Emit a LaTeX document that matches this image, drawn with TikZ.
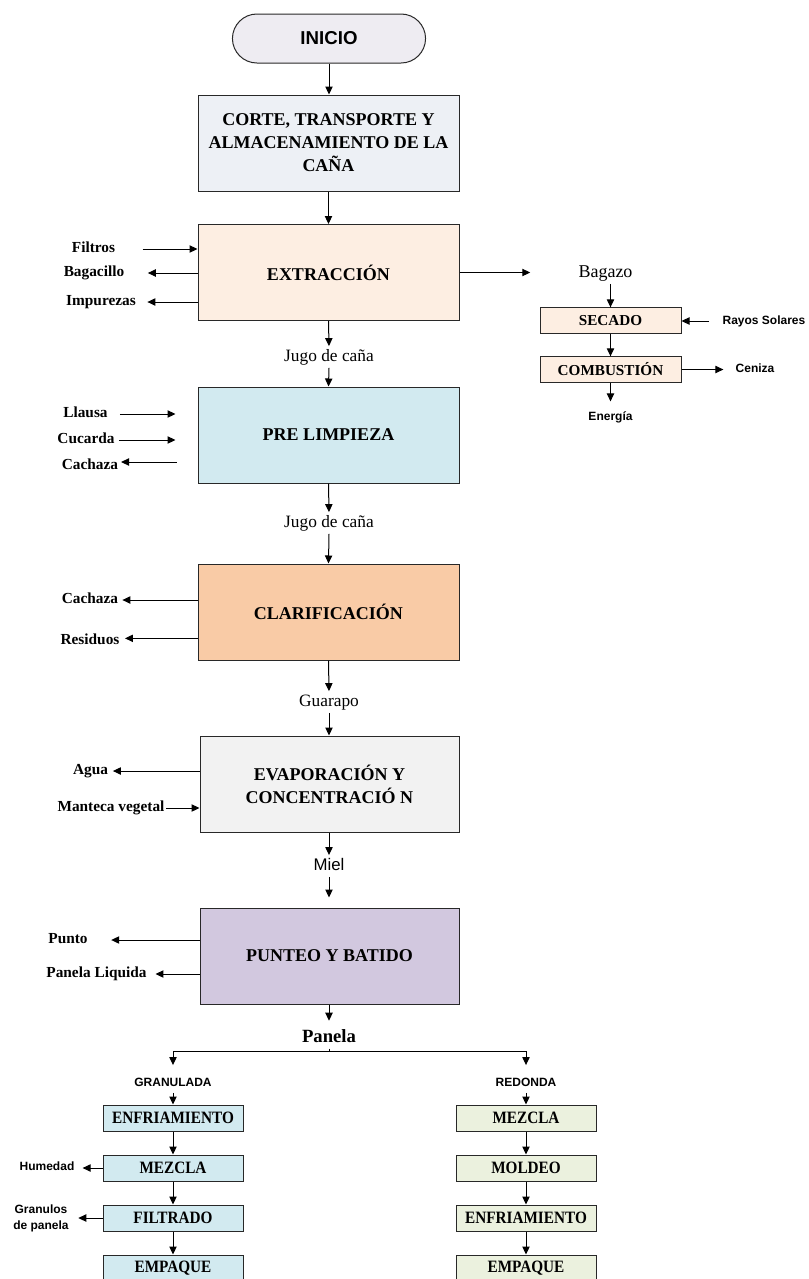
\documentclass[tikz,border=0pt]{standalone}
\usepackage{fontspec}
\setmainfont{Liberation Serif}
\setsansfont{Liberation Sans}
\newfontfamily\condserif[FakeStretch=0.88]{Liberation Serif}
\usetikzlibrary{shapes.misc,arrows.meta}
\definecolor{cInicio}{RGB}{238,236,242}
\definecolor{cCorte}{RGB}{237,240,245}
\definecolor{cExt}{RGB}{253,238,226}
\definecolor{cPre}{RGB}{210,234,240}
\definecolor{cClar}{RGB}{249,203,166}
\definecolor{cEvap}{RGB}{242,242,242}
\definecolor{cPunt}{RGB}{210,200,223}
\definecolor{cGreen}{RGB}{235,241,222}
\definecolor{cLine}{RGB}{40,40,40}
\begin{document}
\begin{tikzpicture}[x=0.75pt,y=-0.75pt,
  arr/.style={-{Triangle[length=6pt,width=5.5pt]}, line width=0.75pt, draw=black},
  line/.style={line width=0.75pt, draw=black},
  box/.style={draw=cLine, line width=0.75pt, align=center, inner sep=1pt},
  bigbox/.style={box, minimum width=195.75pt, minimum height=72pt, font=\bfseries\fontsize{13.5}{17.25}\selectfont},
  smallbox/.style={box, minimum width=105.75pt, minimum height=19pt, fill=cExt, font=\bfseries\fontsize{11.4}{13}\selectfont},
  btmbox/.style={box, minimum width=105pt, minimum height=19.5pt, font=\condserif\bfseries\fontsize{13}{15}\selectfont},
  inicio/.style={draw=cLine, line width=0.75pt, rounded rectangle, minimum width=151.5pt, minimum height=36.75pt, fill=cInicio, font=\sffamily\bfseries\fontsize{14}{16}\selectfont},
  flowlbl/.style={inner sep=2pt, text height=9pt, text depth=3pt, font=\fontsize{13}{15}\selectfont},
  sidelbl/.style={inner sep=1pt, text height=8pt, text depth=2.5pt, font=\bfseries\fontsize{11.5}{13}\selectfont},
  smlbl/.style={inner sep=1pt, text height=7pt, text depth=2pt, align=center, font=\sffamily\bfseries\fontsize{9}{11}\selectfont},
  twolbl/.style={inner sep=1pt, align=center, font=\sffamily\bfseries\fontsize{9}{12}\selectfont},
  brlbl/.style={inner sep=1pt, text height=7pt, text depth=0pt, font=\sffamily\bfseries\fontsize{9}{11}\selectfont}
]
\useasboundingbox (0,0) rectangle (809,1279);

% main column
\node[inicio] (inicio) at (329,38.5) {INICIO};
\node[bigbox, fill=cCorte] (corte) at (328.5,143) {CORTE, TRANSPORTE Y\\ALMACENAMIENTO DE LA\\CAÑA};
\node[bigbox, fill=cExt] (ext) at (328.5,272.5) {EXTRACCIÓN};
\node[flowlbl] (jugo1) at (329,357) {Jugo de caña};
\node[bigbox, fill=cPre] (pre) at (328.5,435) {PRE LIMPIEZA};
\node[flowlbl] (jugo2) at (329,523) {Jugo de caña};
\node[bigbox, fill=cClar] (clar) at (328.5,612) {CLARIFICACIÓN};
\node[flowlbl] (guarapo) at (329,702) {Guarapo};
\node[bigbox, fill=cEvap, minimum width=194.25pt] (evap) at (329.5,784) {EVAPORACIÓN Y\\CONCENTRACIÓ N};
\node[flowlbl, font=\sffamily\fontsize{12.6}{15}\selectfont] (miel) at (329,866) {Miel};
\node[bigbox, fill=cPunt, minimum width=194.25pt] (punt) at (329.5,956) {PUNTEO Y BATIDO};
\node[inner sep=1pt, text height=10pt, text depth=3.5pt, font=\bfseries\fontsize{14}{16}\selectfont] (panela) at (329,1038) {Panela};

\draw[arr] (inicio.south) -- (inicio.south |- corte.north);
\draw[arr] (corte.south) -- (ext.north);
\draw[arr] (ext.south) -- (jugo1.north);
\draw[arr] (jugo1.south) -- (pre.north);
\draw[arr] (pre.south) -- (jugo2.north);
\draw[arr] (jugo2.south) -- (clar.north);
\draw[arr] (clar.south) -- (guarapo.north);
\draw[arr] (guarapo.south) -- (guarapo.south |- evap.north);
\draw[arr] (evap.south -| miel.north) -- (miel.north);
\draw[arr, shorten >=7.5pt] (miel.south) -- (miel.south |- punt.north);
\draw[arr, shorten >=5pt] (punt.south -| panela.north) -- (panela.north);

% extraction side
\node[sidelbl] (filtros) at (93.5,249) {Filtros};
\node[sidelbl] (bagacillo) at (94,273) {Bagacillo};
\node[sidelbl] (impurezas) at (101,302) {Impurezas};
\draw[arr, shorten <=19.5pt] (filtros.east) -- (ext.west |- filtros.east);
\draw[arr, shorten >=16.5pt] (ext.west |- bagacillo.east) -- (bagacillo.east);
\draw[arr, shorten >=7.5pt] (ext.west |- impurezas.east) -- (impurezas.east);

% bagazo branch
\node[flowlbl, font=\fontsize{13.5}{15}\selectfont] (bagazo) at (605.5,273) {Bagazo};
\node[smallbox] (secado) at (610.5,320.5) {SECADO};
\node[smallbox] (comb) at (610.5,369.5) {COMBUSTIÓN};
\node[smlbl] (rayos) at (764,321) {Rayos Solares};
\node[smlbl] (ceniza) at (755,369.5) {Ceniza};
\node[smlbl] (energia) at (610.5,417) {Energía};
\draw[arr, shorten >=34pt] (ext.east) -- (ext.east -| bagazo.west);
\draw[arr] (bagazo.south -| secado.north) -- (secado.north);
\draw[arr, shorten <=9pt] (rayos.west) -- (secado.east |- rayos.west);
\draw[arr] (secado.south) -- (comb.north);
\draw[arr, shorten >=8pt] (comb.east) -- (comb.east -| ceniza.west);
\draw[arr, shorten >=6pt] (comb.south) -- (energia.north);

% pre limpieza side
\node[sidelbl] (llausa) at (85.5,414) {Llausa};
\node[sidelbl] (cucarda) at (86,440) {Cucarda};
\node[sidelbl] (cachaza1) at (90,466) {Cachaza};
\draw[arr, shorten <=8pt, shorten >=16.5pt] (llausa.east) -- (pre.west |- llausa.east);
\draw[arr, shorten <=2pt, shorten >=16.5pt] (cucarda.east) -- (pre.west |- cucarda.east);
\draw[arr, shorten <=15.75pt, shorten >=1pt] ([yshift=3pt]pre.west |- cachaza1.east) -- ([yshift=3pt]cachaza1.east);

% clarificacion side
\node[sidelbl] (cachaza2) at (90,600) {Cachaza};
\node[sidelbl] (residuos) at (90,641) {Residuos};
\draw[arr, shorten >=2pt] (clar.west |- cachaza2.east) -- (cachaza2.east);
\draw[arr, shorten >=3pt] ([yshift=2pt]clar.west |- residuos.east) -- ([yshift=2pt]residuos.east);

% evaporacion side
\node[sidelbl] (agua) at (90.5,771) {Agua};
\node[sidelbl] (manteca) at (111,808) {Manteca vegetal};
\draw[arr, shorten >=2.5pt] (evap.west |- agua.east) -- (agua.east);
\draw[arr] (manteca.east) -- (evap.west |- manteca.east);

% punteo side
\node[sidelbl] (punto) at (68,940) {Punto};
\node[sidelbl] (pliq) at (96.5,974) {Panela Liquida};
\draw[arr, shorten >=16.5pt] (punt.west |- punto.east) -- (punto.east);
\draw[arr, shorten >=5.5pt] (punt.west |- pliq.east) -- (pliq.east);

% branches
\coordinate (split) at (329,1051);
\node[brlbl] (gran) at (173,1082) {GRANULADA};
\node[brlbl] (red) at (526,1082) {REDONDA};
\draw[line] (panela.south) -- (split);
\draw[arr, shorten >=8pt] (split) -| (gran.north);
\draw[arr, shorten >=8pt] (split) -| (red.north);

\node[btmbox, fill=cPre] (enf1) at (173,1118) {ENFRIAMIENTO};
\node[btmbox, fill=cPre] (mez1) at (173,1168) {MEZCLA};
\node[btmbox, fill=cPre] (fil1) at (173,1218) {FILTRADO};
\node[btmbox, fill=cPre] (emp1) at (173,1268) {EMPAQUE};
\node[btmbox, fill=cGreen] (mez2) at (526,1118) {MEZCLA};
\node[btmbox, fill=cGreen] (mol2) at (526,1168) {MOLDEO};
\node[btmbox, fill=cGreen] (enf2) at (526,1218) {ENFRIAMIENTO};
\node[btmbox, fill=cGreen] (emp2) at (526,1268) {EMPAQUE};

\draw[arr, shorten <=3.5pt] (gran.south) -- (enf1.north);
\draw[arr, shorten <=3.5pt] (red.south) -- (mez2.north);
\draw[arr] (enf1) -- (mez1);
\draw[arr] (mez1) -- (fil1);
\draw[arr] (fil1) -- (emp1);
\draw[arr] (mez2) -- (mol2);
\draw[arr] (mol2) -- (enf2);
\draw[arr] (enf2) -- (emp2);

\node[brlbl, text depth=2pt] (humedad) at (47,1167) {Humedad};
\node[twolbl] (granulos) at (41,1218) {Granulos\\de panela};
\draw[arr, shorten >=5pt] (mez1.west) -- (mez1.west -| humedad.east);
\draw[arr, shorten >=6pt] (fil1.west) -- (fil1.west -| granulos.east);
\end{tikzpicture}
\end{document}
